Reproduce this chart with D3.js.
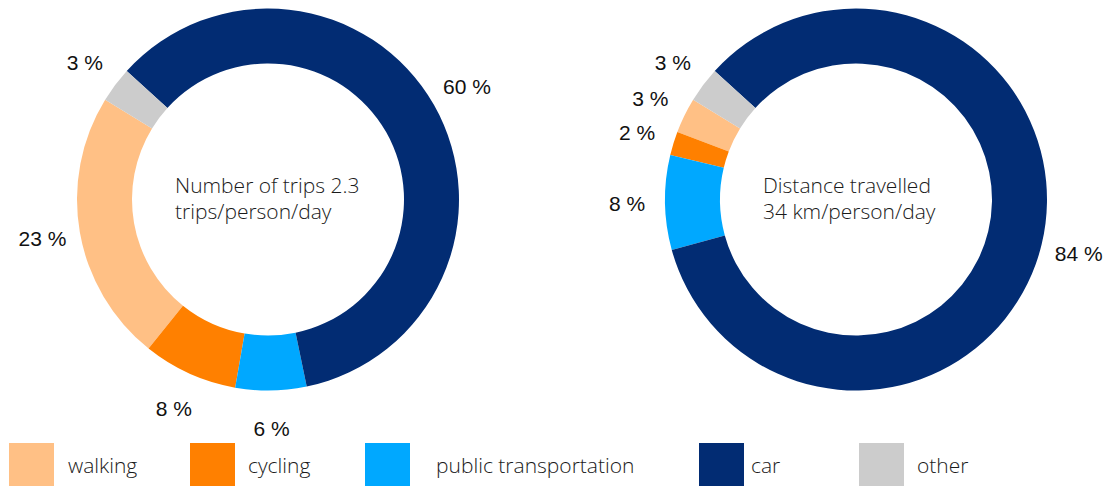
<!DOCTYPE html>
<html>
<head>
<meta charset="utf-8">
<script src="https://cdn.jsdelivr.net/npm/d3@7"></script>
<style>
  html, body { margin: 0; padding: 0; background: #fff; }
  svg { display: block; }
</style>
</head>
<body>
<svg id="chart" width="1106" height="486"></svg>
<script>
// ---- data ----
const categories = ["walking", "cycling", "public transportation", "car", "other"];
const colors = ["#FFC085", "#FF8000", "#00A8FF", "#022C73", "#CCCCCC"];
const tripsValues = [23, 8, 6, 60, 3];
const distanceValues = [3, 2, 8, 84, 3];
const tripsTitle = ["Number of trips 2.3", "trips/person/day"];
const distanceTitle = ["Distance travelled", "34 km/person/day"];

// ---- layout ----
const W = 1106, H = 486;
const outerR = 191, innerR = 136, labelR = 229;
const startDeg = -58.5;
const charts = [
  { cx: 268, cy: 199.5, values: tripsValues, title: tripsTitle },
  { cx: 856, cy: 199.5, values: distanceValues, title: distanceTitle }
];
const legendSquareX = [9, 190, 365, 699, 859];
const legendTextX = [68, 248, 436, 751, 917];

const svg = d3.select("#chart");
const color = d3.scaleOrdinal().domain(categories).range(colors);

const start = startDeg * Math.PI / 180;
const pie = d3.pie().sort(null).value(d => d.value)
  .startAngle(start).endAngle(start - 2 * Math.PI);
const arc = d3.arc().innerRadius(innerR).outerRadius(outerR);
const labelArc = d3.arc().innerRadius(labelR).outerRadius(labelR);

charts.forEach(c => {
  const g = svg.append("g").attr("transform", `translate(${c.cx},${c.cy})`);
  const data = pie(categories.map((k, i) => ({ key: k, value: c.values[i] })));
  g.selectAll("path.slice").data(data).join("path")
    .attr("class", "slice")
    .attr("d", arc)
    .attr("fill", d => color(d.data.key));
  g.selectAll("text.pct").data(data).join("text")
    .attr("class", "pct")
    .attr("transform", d => `translate(${labelArc.centroid(d)})`)
    .attr("text-anchor", "middle")
    .attr("dy", "0.36em")
    .style("font-family", "'Liberation Sans', Arial, sans-serif")
    .style("font-size", "21px")
    .attr("fill", "#111")
    .text(d => d.data.value + " %");
  const t = g.append("text")
    .style("font-family", "'Open Sans', 'Noto Sans', sans-serif")
    .style("font-weight", 300)
    .style("font-size", "21px")
    .attr("fill", "#1a1a1a");
  c.title.forEach((line, i) => {
    t.append("tspan").attr("x", -93).attr("y", -6.5 + i * 26).text(line);
  });
});

// ---- legend ----
const lg = svg.append("g");
categories.forEach((k, i) => {
  lg.append("rect")
    .attr("x", legendSquareX[i]).attr("y", 443)
    .attr("width", 45).attr("height", 45)
    .attr("fill", color(k));
  lg.append("text")
    .attr("x", legendTextX[i]).attr("y", 473)
    .style("font-family", "'Open Sans', 'Noto Sans', sans-serif")
    .style("font-weight", 300)
    .style("font-size", "21px")
    .attr("fill", "#1a1a1a")
    .text(k);
});
</script>
</body>
</html>
